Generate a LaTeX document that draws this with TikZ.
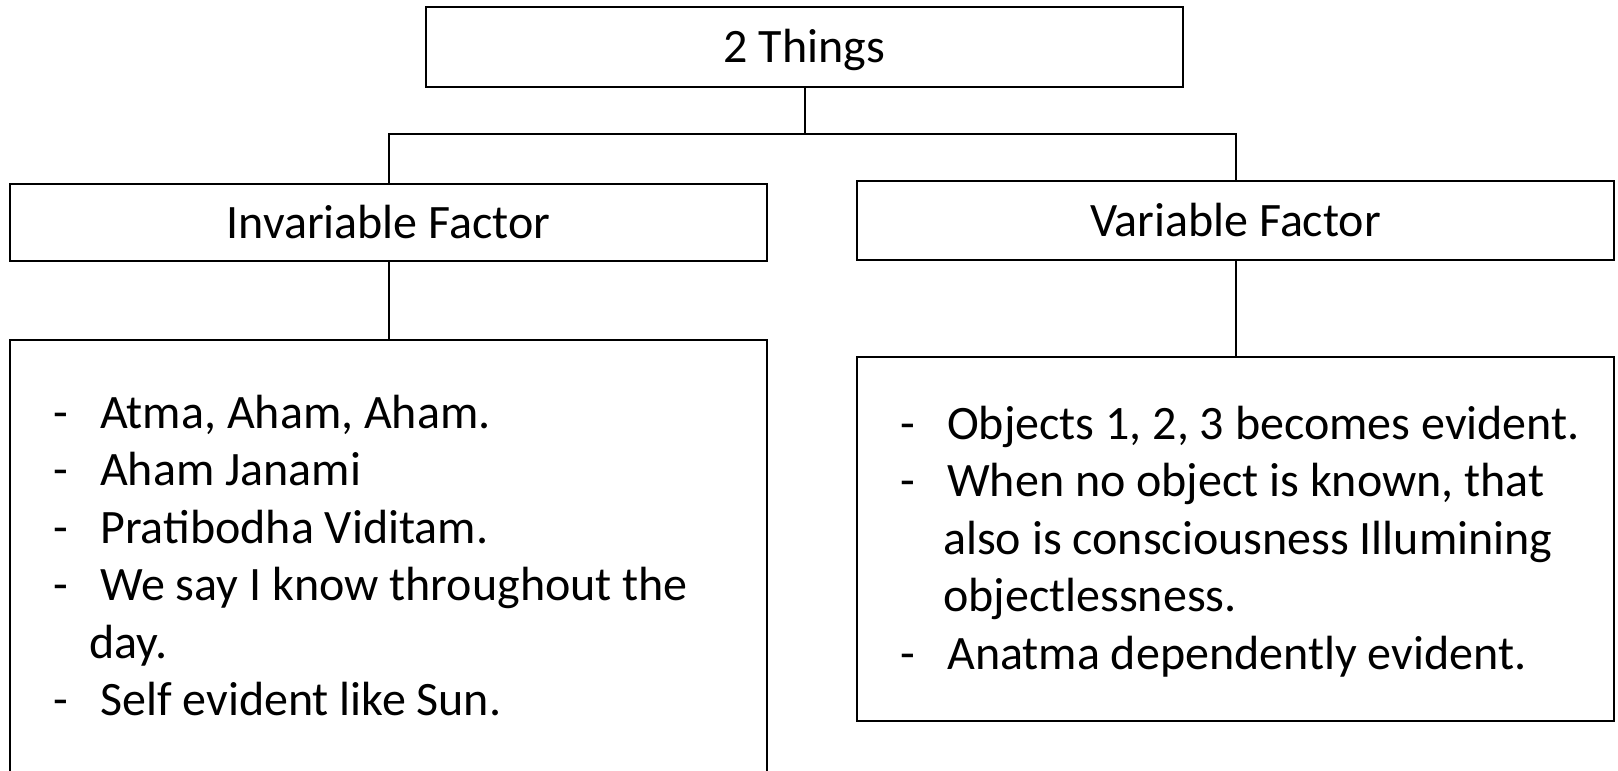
\documentclass[tikz,border=0pt]{standalone}
\usepackage{fontspec}
\setmainfont{Carlito}
\usetikzlibrary{positioning}
\newcommand{\slidefont}{\fontsize{48}{57}\selectfont}
\tikzset{
  box/.style={draw, line width=2.4pt, inner sep=0pt, text height=31pt, text depth=0pt, font=\slidefont},
  link/.style={line width=2pt},
  item/.style={anchor=base west, inner sep=0pt, font=\slidefont},
}

\begin{document}
\begin{tikzpicture}[x=1pt, y=-1pt]
\useasboundingbox (0,0) rectangle (1618,771);
\clip (0,0) rectangle (1618,771);
% ---- headings ----
\node[box, minimum width=757pt, minimum height=80pt] (things) at (804.5,47) {2 Things};
\node[box, minimum width=757pt, minimum height=77pt] (invar) at (388.5,222.5) {Invariable Factor};
\node[box, minimum width=757pt, minimum height=79pt] (var) at (1235.5,220.5) {Variable Factor};
% ---- list boxes (left one runs off the bottom) ----
\node[box, minimum width=757pt, minimum height=460pt] (invarlist) at (388.5,570) {};
\node[box, minimum width=757pt, minimum height=364pt] (varlist) at (1235.5,539) {};
% ---- connectors ----
\coordinate (split) at (804.5,133.5);
\draw[link] (things.south) -- (split);
\draw[link] (split) -| (invar.north);
\draw[link] (split) -| (var.north);
\draw[link] (invar.south) -- (invarlist.north);
\draw[link] (var.south) -- (varlist.north);
% ---- left list ----
\foreach \y/\t [count=\i] in {428/{Atma, Aham, Aham.}, 485.5/{Aham Janami}, 543/{Pratibodha Viditam.},
    600.5/{We say I know throughout the}, 715.5/{Self evident like Sun.}}{
  \node[item] (ldash\i) at (53,\y) {-};
  \node[item] (ltext\i) at (100,\y) {\t};
}
\node[item] (lday) at (89,658) {day.};
% ---- right list ----
\foreach \y/\t [count=\i] in {439/{Objects 1, 2, 3 becomes evident.}, 496.5/{When no object is known, that},
    669/{Anatma dependently evident.}}{
  \node[item] (rdash\i) at (900,\y) {-};
  \node[item] (rtext\i) at (947,\y) {\t};
}
\node[item] (ralso) at (943,554) {also is consciousness Illumining};
\node[item] (robj) at (943,611.5) {objectlessness.};
\end{tikzpicture}
\end{document}
